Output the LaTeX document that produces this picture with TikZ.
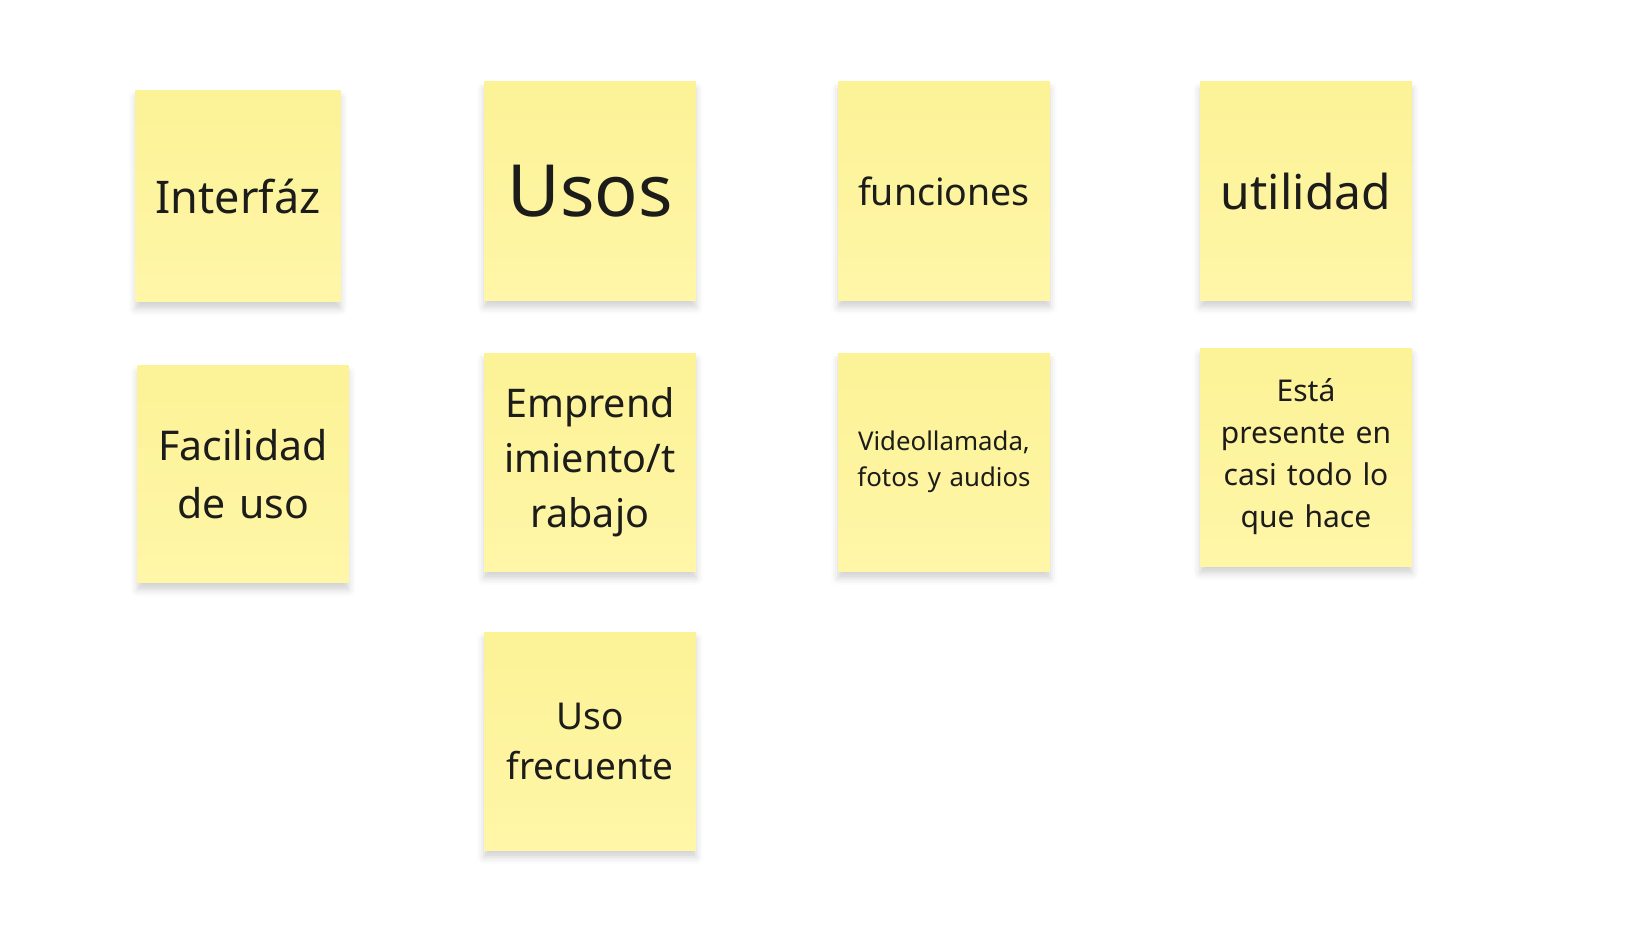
\documentclass[tikz,border=0pt]{standalone}
\usepackage{fontspec}
\setmainfont{Noto Sans}
\usetikzlibrary{shadows.blur}
\definecolor{noteTop}{RGB}{252,242,150}
\definecolor{noteBot}{RGB}{255,246,168}
\definecolor{ink}{RGB}{28,28,26}

\begin{document}
\begin{tikzpicture}[x=1pt, y=-1pt]

\tikzstyle{note} = [rectangle, minimum width=212pt, minimum height=218pt, text width=192pt, align=center, inner sep=0pt, top color=noteTop, bottom color=noteBot, draw=none, text=ink, blur shadow={shadow xshift=0pt, shadow yshift=-7pt, shadow blur radius=7pt, shadow opacity=18}]

\useasboundingbox (0,0) rectangle (1644,950);

    \node [note, minimum width=205pt, minimum height=211pt, font=\fontsize{45}{62}\selectfont] (A) at (238,196) {Interfáz};
    \node [note, font=\fontsize{72}{96}\selectfont] (B) at (590,191) {Usos};
    \node [note, font=\fontsize{37.5}{51}\selectfont] (C) at (944,191) {funciones};
    \node [note, font=\fontsize{48}{66}\selectfont] (D) at (1306,191) {utilidad};

    \node [note, minimum width=211pt, minimum height=217pt, font=\fontsize{41}{57.5}\selectfont] (E) at (243,474) {Facilidad\\de uso};
    \node [note, font=\fontsize{39.5}{55}\selectfont] (F) at (590,462) {Emprend\\imiento/t\\rabajo};
    \node [note, font=\fontsize{25.8}{35.6}\selectfont] (G) at (944,462) {Videollamada,\\fotos y audios};
    \node [note, font=\fontsize{30}{42}\selectfont] (H) at (1306,457) {Está\\presente en\\casi todo lo\\que hace};

    \node [note, font=\fontsize{37}{50}\selectfont] (I) at (590,741) {Uso\\frecuente};

\end{tikzpicture}
\end{document}
